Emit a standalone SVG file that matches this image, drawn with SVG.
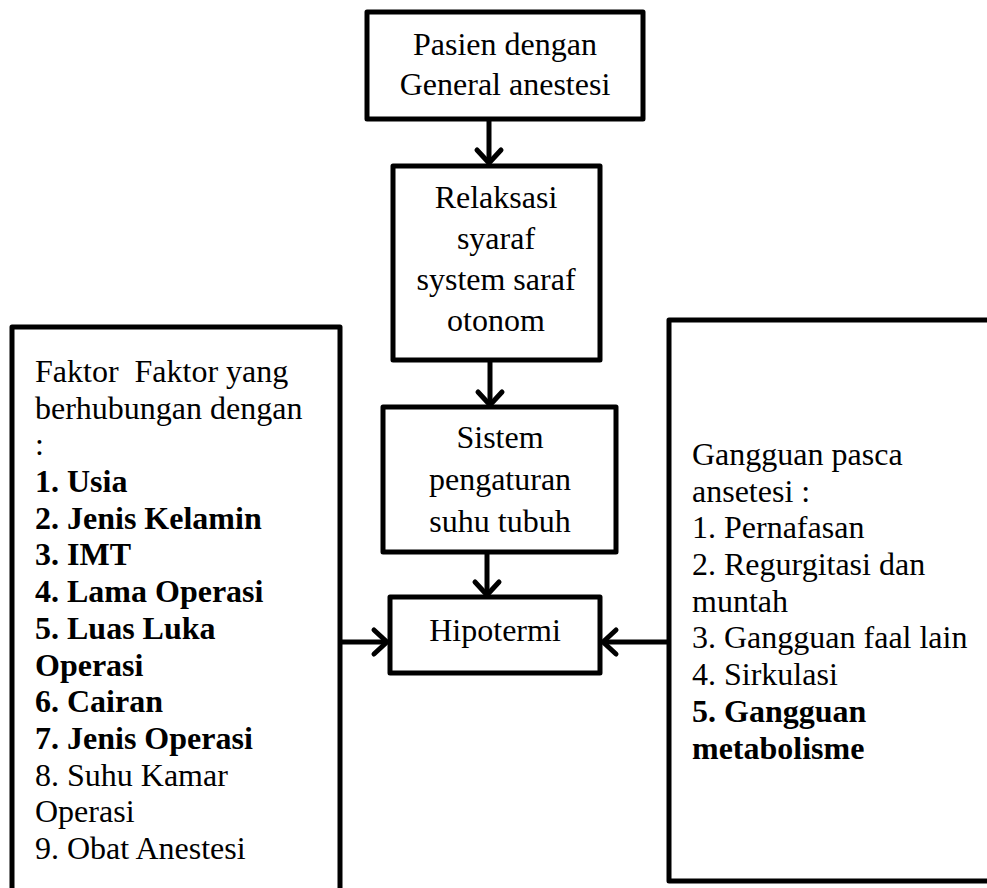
<svg xmlns="http://www.w3.org/2000/svg" width="987" height="888" viewBox="0 0 987 888">
<style>
.box{fill:#fff;stroke:#000;stroke-width:5;stroke-linejoin:round}
.t{font-family:"Liberation Serif","Times New Roman",serif;font-size:32px;fill:#000}
.c{text-anchor:middle}
.b{font-weight:bold}
.ln{fill:none;stroke:#000;stroke-width:5;stroke-linecap:butt}
.ah{fill:none;stroke:#000;stroke-width:5;stroke-linecap:round;stroke-linejoin:round}
</style>
<rect width="987" height="888" fill="#fff"/>
<g id="connectors">
<line class="ln" x1="489" y1="120" x2="489" y2="162"/>
<polyline class="ah" points="477,150 489,163 501,150"/>
<line class="ln" x1="490" y1="360" x2="490" y2="404"/>
<polyline class="ah" points="478,392 490,405 502,392"/>
<line class="ln" x1="487" y1="552" x2="487" y2="594"/>
<polyline class="ah" points="475,582 487,595 499,582"/>
<line class="ln" x1="338" y1="642" x2="387" y2="642"/>
<polyline class="ah" points="374,630 387,642 374,654"/>
<line class="ln" x1="668" y1="642" x2="603" y2="642"/>
<polyline class="ah" points="616,630 603,642 616,654"/>
</g>
<g id="node-pasien">
<rect class="box" x="367" y="12" width="276" height="107"/>
<text class="t c" x="505" y="55">Pasien dengan</text>
<text class="t c" x="505" y="95">General anestesi</text>
</g>
<g id="node-relaksasi">
<rect class="box" x="393" y="166" width="207" height="194"/>
<text class="t c" x="496" y="208">Relaksasi</text>
<text class="t c" x="496" y="249">syaraf</text>
<text class="t c" x="496" y="290">system saraf</text>
<text class="t c" x="496" y="331">otonom</text>
</g>
<g id="node-sistem">
<rect class="box" x="383" y="407" width="233" height="145"/>
<text class="t c" x="500" y="448">Sistem</text>
<text class="t c" x="500" y="490">pengaturan</text>
<text class="t c" x="500" y="532">suhu tubuh</text>
</g>
<g id="node-hipotermi">
<rect class="box" x="390" y="597" width="210" height="76"/>
<text class="t c" x="495" y="641">Hipotermi</text>
</g>
<g id="node-faktor">
<rect class="box" x="12" y="327" width="328" height="600"/>
<text class="t" x="35" y="382" style="white-space:pre" xml:space="preserve">Faktor  Faktor yang</text>
<text class="t" x="35" y="419">berhubungan dengan</text>
<text class="t" x="35" y="455">:</text>
<text class="t b" x="35" y="492">1. Usia</text>
<text class="t b" x="35" y="529">2. Jenis Kelamin</text>
<text class="t b" x="35" y="565">3. IMT</text>
<text class="t b" x="35" y="602">4. Lama Operasi</text>
<text class="t b" x="35" y="639">5. Luas Luka</text>
<text class="t b" x="35" y="676">Operasi</text>
<text class="t b" x="35" y="712">6. Cairan</text>
<text class="t b" x="35" y="749">7. Jenis Operasi</text>
<text class="t" x="35" y="786">8. Suhu Kamar</text>
<text class="t" x="35" y="822">Operasi</text>
<text class="t" x="35" y="859">9. Obat Anestesi</text>
</g>
<g id="node-gangguan">
<rect class="box" x="669" y="320" width="340" height="561"/>
<text class="t" x="692" y="465">Gangguan pasca</text>
<text class="t" x="692" y="502">ansetesi :</text>
<text class="t" x="692" y="538">1. Pernafasan</text>
<text class="t" x="692" y="575">2. Regurgitasi dan</text>
<text class="t" x="692" y="612">muntah</text>
<text class="t" x="692" y="648">3. Gangguan faal lain</text>
<text class="t" x="692" y="685">4. Sirkulasi</text>
<text class="t b" x="692" y="722">5. Gangguan</text>
<text class="t b" x="692" y="759">metabolisme</text>
</g>
</svg>
